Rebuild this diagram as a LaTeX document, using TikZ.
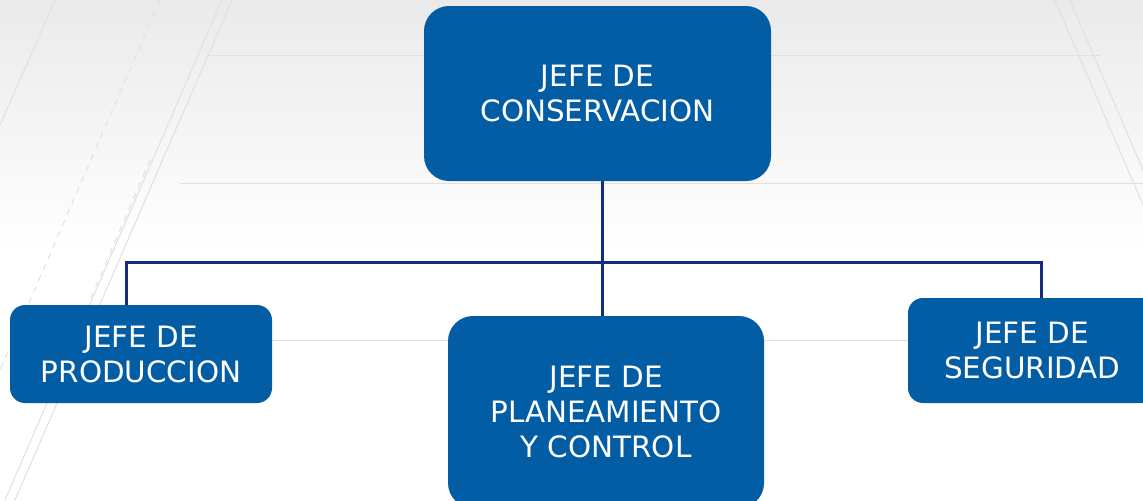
\documentclass[tikz,border=0pt]{standalone}
\usepackage{fontspec}
\setmainfont{DejaVu Sans}
\usepackage{tikz}
\usetikzlibrary{positioning}
\definecolor{cajaazul}{RGB}{2,93,165}
\definecolor{lineaazul}{RGB}{22,42,128}
\definecolor{fondogris}{RGB}{234,234,234}

\begin{document}
\begin{tikzpicture}[
	x=0.5pt, y=-0.5pt,
	caja/.style={
		fill=cajaazul,
		text=white,
		align=center,
		inner sep=0pt,
		font=\fontsize{14.7}{17.5}\selectfont
	},
	conn/.style={
		draw=lineaazul,
		line width=1.5pt
	},
	deco/.style={
		draw=black!12,
		line width=0.5pt
	}
	]
	\useasboundingbox (0,0) rectangle (1143,500);
	\clip (0,0) rectangle (1143,500);
	
	% fondo
	\shade[top color=fondogris, bottom color=white] (0,0) rectangle (1143,250);
	\draw[deco] (232,0) -- (15,500);
	\draw[deco] (222,0) -- (5,500);
	\draw[deco, dashed] (160,0) -- (0,370);
	\draw[deco] (55,0) -- (0,125);
	\draw[deco] (207,55) -- (1100,55);
	\draw[deco] (180,183) -- (1143,183);
	\draw[deco] (272,340) -- (908,340);
	\draw[deco] (1055,0) -- (1143,205);
	\draw[deco] (1070,0) -- (1143,170);
	\draw[deco, dashed] (150,160) -- (90,300);
	
	% cajas
	\node[caja, minimum width=173.5pt, minimum height=87.5pt, rounded corners=12.5pt] 
	(cons) at (597.5,93.5) {JEFE DE\\CONSERVACION};
	
	\node[caja, minimum width=131pt, minimum height=49pt, rounded corners=7.5pt] 
	(prod) at (141,354) {JEFE DE\\PRODUCCION};
	
	\node[caja, minimum width=158pt, minimum height=96pt, rounded corners=12.5pt] 
	(plan) at (606,412) {JEFE DE\\PLANEAMIENTO\\Y CONTROL};
	
	\node[caja, minimum width=124pt, minimum height=52.5pt, rounded corners=7.5pt] 
	(seg) at (1032,350.5) {JEFE DE\\SEGURIDAD};
	
	% conectores
	\coordinate (hub) at (602,262);
	\coordinate (izq) at (126,262);
	\coordinate (der) at (1041,262);
	
	\draw[conn] (cons.south -| hub) -- (plan.north -| hub);
	\draw[conn] (prod.north -| izq) -- (izq) -- (der) -- (seg.north -| der);
	
\end{tikzpicture}
\end{document}
